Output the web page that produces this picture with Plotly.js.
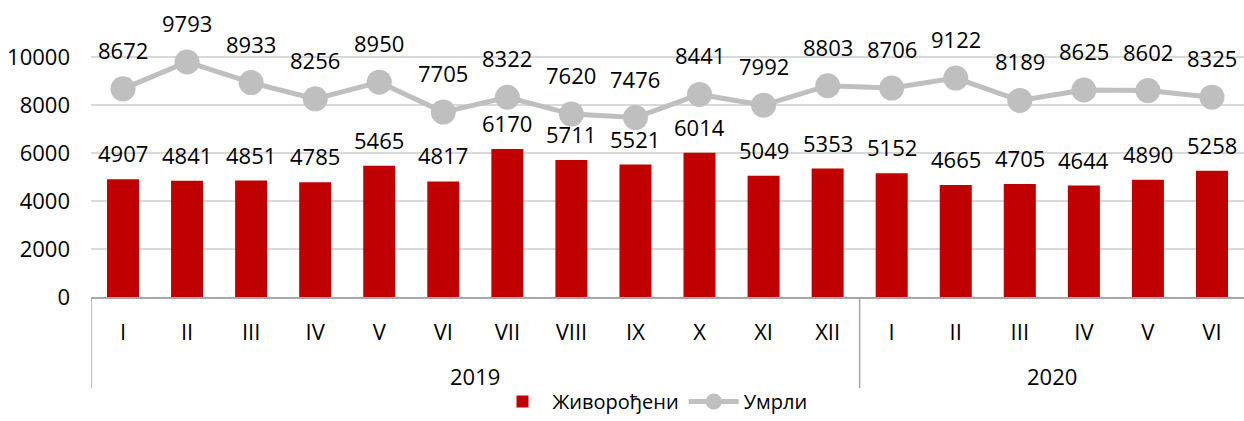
<!DOCTYPE html>
<html>
<head>
<meta charset="utf-8">
<script src="https://cdn.plot.ly/plotly-3.0.1.min.js"></script>
<style>html,body{margin:0;padding:0;background:#fff;}#chart{width:1244px;height:421px;}</style>
</head>
<body>
<div id="chart"></div>
<script>
const months = ["I","II","III","IV","V","VI","VII","VIII","IX","X","XI","XII","I","II","III","IV","V","VI"];
const years = ["2019","2019","2019","2019","2019","2019","2019","2019","2019","2019","2019","2019","2020","2020","2020","2020","2020","2020"];
const births = [4907,4841,4851,4785,5465,4817,6170,5711,5521,6014,5049,5353,5152,4665,4705,4644,4890,5258];
const deaths = [8672,9793,8933,8256,8950,7705,8322,7620,7476,8441,7992,8803,8706,9122,8189,8625,8602,8325];
const birthsName = "Живорођени";
const deathsName = "Умрли";
const yTicks = [0,2000,4000,6000,8000,10000];

const FONT = "Open Sans, Noto Sans, sans-serif";
const FS = 22;
const idx = months.map((m,i)=>i);

const traces = [
  {type:"bar", x:idx, y:births, name:birthsName, marker:{color:"#C00000"}, width:0.5, hoverinfo:"skip"},
  {type:"scatter", mode:"lines+markers", x:idx, y:deaths, name:deathsName,
   line:{color:"#BFBFBF", width:5}, marker:{color:"#BFBFBF", size:25}, hoverinfo:"skip"}
];

const annotations = [];
births.forEach((v,i)=>annotations.push({x:i, y:v, xref:"x", yref:"y", text:String(v), showarrow:false, yshift:26, font:{family:FONT,size:FS,color:"#000"}}));
deaths.forEach((v,i)=>annotations.push({x:i, y:v, xref:"x", yref:"y", text:String(v), showarrow:false, yshift:39, font:{family:FONT,size:FS,color:"#000"}}));

const groups = [];
years.forEach((y,i)=>{
  if(!groups.length || groups[groups.length-1].name!==y) groups.push({name:y,start:i,end:i});
  else groups[groups.length-1].end=i;
});
const shapes = [];
groups.forEach(g=>{
  annotations.push({x:(g.start+g.end)/2, y:-0.274, xref:"x", yref:"paper", text:g.name, showarrow:false, yanchor:"middle", font:{family:FONT,size:FS,color:"#000"}});
  shapes.push({type:"line", xref:"x", yref:"paper", x0:g.start-0.5, x1:g.start-0.5, y0:0, y1:-0.316, line:{color:"#A6A6A6", width:1.5}});
});

const layout = {
  width:1244, height:421,
  margin:{l:91, r:0, t:9, b:124, autoexpand:false},
  paper_bgcolor:"#fff", plot_bgcolor:"#fff",
  font:{family:FONT, size:FS, color:"#000"},
  showlegend:true,
  legend:{orientation:"h", x:0.487, xanchor:"center", yref:"container", y:0.0, yanchor:"bottom", itemwidth:50,
          font:{family:FONT,size:20,color:"#000"}},
  xaxis:{range:[-0.5,17.5], tickmode:"array", tickvals:idx, ticktext:months, showgrid:false, zeroline:false, automargin:false,
         showline:true, linecolor:"#A6A6A6", linewidth:2, ticks:"", ticklabelstandoff:15, fixedrange:true,
         tickfont:{family:FONT,size:FS,color:"#000"}},
  yaxis:{range:[0,12000], tickmode:"array", tickvals:yTicks, ticktext:yTicks.map(String), showgrid:true, gridcolor:"#D9D9D9", gridwidth:1.5,
         zeroline:false, showline:false, ticks:"", ticklabelstandoff:20, fixedrange:true, automargin:false,
         tickfont:{family:FONT,size:FS,color:"#000"}},
  annotations:annotations,
  shapes:shapes,
  bargap:0.5
};
Plotly.newPlot("chart", traces, layout, {displayModeBar:false, staticPlot:true});
</script>
</body>
</html>
